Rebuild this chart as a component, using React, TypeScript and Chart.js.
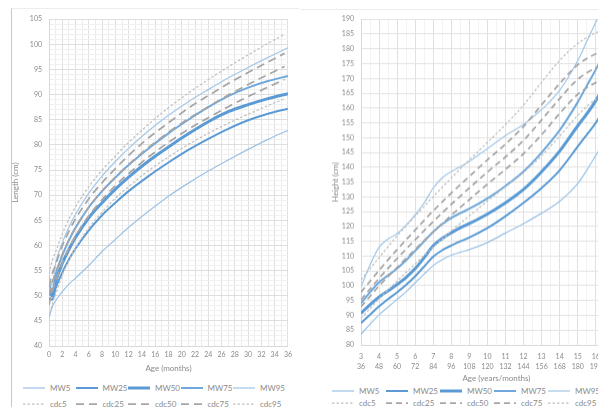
import React, { useEffect, useRef } from "react";
import { Chart, registerables } from "chart.js";
Chart.register(...registerables);

// ---------- Infant chart (length, 0-36 months) ----------
const infantMonths = [0, 0.5, 1, 2, 3, 4, 6, 8, 10, 12, 15, 18, 21, 24, 27, 30, 33, 36];
const mw5Infant = [45.6, 47.8, 49.0, 50.8, 52.3, 53.5, 56.0, 58.8, 61.2, 63.6, 66.8, 69.8, 72.4, 74.8, 77.0, 79.1, 81.1, 82.9];
const mw25Infant = [49.5, 49.2, 51.5, 54.6, 57.2, 59.4, 63.0, 66.0, 68.5, 70.8, 73.8, 76.5, 79.0, 81.2, 83.2, 84.9, 86.2, 87.2];
const mw50Infant = [51.0, 50.0, 52.8, 56.4, 59.2, 61.6, 65.5, 68.5, 71.2, 73.6, 76.8, 79.6, 82.2, 84.6, 86.6, 88.0, 89.2, 90.2];
const mw75Infant = [52.5, 50.8, 54.2, 58.0, 61.0, 63.5, 67.6, 70.8, 73.5, 76.0, 79.3, 82.3, 85.0, 87.5, 89.7, 91.4, 92.7, 93.7];
const mw95Infant = [54.0, 52.0, 56.5, 60.5, 63.6, 66.2, 70.4, 73.8, 76.7, 79.3, 82.8, 85.9, 88.6, 91.0, 93.3, 95.4, 97.4, 99.3];

const cdcInfantMonths = [0, 0.5, 1, 2, 3, 4, 6, 8, 10, 12, 15, 18, 21, 24, 27, 30, 33, 35.5];
const cdc5Infant = [45.6, 48.4, 50.3, 54.1, 57.0, 59.5, 63.5, 66.6, 69.4, 71.7, 74.9, 77.6, 80.1, 82.3, 84.3, 86.1, 87.8, 89.2];
const cdc25Infant = [48.2, 51.0, 52.8, 56.5, 59.4, 61.9, 65.9, 69.1, 71.9, 74.3, 77.6, 80.5, 83.1, 85.4, 87.6, 89.6, 91.5, 93.0];
const cdc50Infant = [50.0, 52.7, 54.5, 58.2, 61.1, 63.6, 67.6, 70.8, 73.6, 76.1, 79.5, 82.5, 85.2, 87.6, 89.9, 92.0, 94.0, 95.6];
const cdc75Infant = [51.8, 54.4, 56.2, 59.9, 62.8, 65.3, 69.3, 72.5, 75.3, 77.9, 81.4, 84.4, 87.3, 89.8, 92.2, 94.4, 96.5, 98.2];
const cdc95Infant = [54.4, 57.0, 58.7, 62.3, 65.2, 67.7, 71.7, 75.0, 77.8, 80.5, 84.1, 87.4, 90.3, 93.0, 95.5, 97.9, 100.2, 102.0];

// ---------- Child chart (height, 3-18 years) ----------
const childAges = [3, 3.5, 4, 4.5, 5, 5.5, 6, 6.5, 7, 7.5, 8, 8.5, 9, 10, 11, 12, 13, 14, 15, 15.5, 16, 16.5];
const mw5Child = [83.6, 87.0, 90.2, 92.8, 95.4, 98.0, 101.0, 104.0, 106.8, 108.8, 110.3, 111.3, 112.2, 114.6, 117.8, 121.0, 124.5, 128.5, 134.5, 139.0, 144.0, 149.0];
const mw25Child = [87.4, 90.2, 93.0, 95.5, 97.8, 100.3, 103.2, 106.5, 109.8, 112.0, 113.6, 115.0, 116.3, 119.5, 123.5, 128.0, 133.0, 139.0, 147.0, 151.0, 155.0, 160.0];
const mw50Child = [90.7, 93.6, 96.2, 98.3, 100.4, 102.8, 105.8, 109.5, 113.5, 116.0, 117.9, 119.6, 121.0, 124.2, 128.0, 132.5, 138.5, 145.5, 154.0, 158.0, 162.5, 168.0];
const mw75Child = [94.1, 97.8, 101.2, 103.5, 105.8, 108.6, 111.8, 115.0, 118.2, 120.8, 122.9, 124.5, 126.0, 129.5, 133.7, 138.6, 145.0, 152.5, 162.0, 167.5, 173.0, 179.0];
const mw95Child = [99.6, 107.0, 113.0, 115.8, 117.6, 120.5, 124.0, 128.0, 133.0, 136.5, 138.5, 140.2, 142.0, 146.3, 150.7, 154.5, 159.5, 166.0, 176.0, 182.5, 189.0, 195.0];

const cdcChildAges = [3, 4, 5, 6, 7, 8, 9, 10, 11, 12, 13, 14, 15, 16, 17, 18];
const cdc5Child = [89.0, 95.5, 101.6, 107.4, 113.0, 118.5, 123.6, 128.6, 133.4, 138.2, 143.9, 150.5, 157.5, 163.0, 165.7, 166.7];
const cdc25Child = [92.9, 99.9, 106.2, 112.3, 118.2, 123.8, 129.1, 134.3, 139.3, 144.6, 151.0, 158.2, 164.6, 168.6, 170.7, 171.6];
const cdc50Child = [95.3, 102.5, 109.2, 115.5, 121.7, 127.5, 133.0, 138.4, 143.5, 149.1, 156.0, 163.2, 169.7, 173.5, 175.4, 176.1];
const cdc75Child = [97.8, 105.2, 112.2, 118.8, 125.3, 131.3, 136.9, 142.5, 147.8, 153.8, 161.1, 168.3, 174.6, 178.3, 180.1, 180.7];
const cdc95Child = [102.0, 109.5, 116.8, 123.5, 130.1, 136.4, 142.5, 148.4, 154.4, 161.0, 168.7, 176.1, 181.8, 185.4, 187.3, 188.2];

const mwLabels = ["MW5", "MW25", "MW50", "MW75", "MW95"];
const cdcLabels = ["cdc5", "cdc25", "cdc50", "cdc75", "cdc95"];

// ---------- styles ----------
const FONT = "Lato, 'Open Sans', sans-serif";
const TEXT = "#8a8a8a";
const MW_COLORS = ["#9dc3e6", "#5b9bd5", "#5b9bd5", "#6fa8dc", "#a3c8e8"];
const MW_WIDTHS = [1.25, 2, 3, 2, 1.25];
const CDC_COLORS = ["#c0c0c0", "#a6a6a6", "#a6a6a6", "#a6a6a6", "#c0c0c0"];
const CDC_WIDTHS = [1.25, 1.75, 1.75, 1.75, 1.25];
const SHORT_DASH = [2.5, 2];

function buildDatasets(mwX: number[], mw: number[][], cdcX: number[], cdc: number[][], longDash: number[]) {
  const sets: any[] = [];
  mw.forEach((ys, i) => {
    sets.push({
      label: mwLabels[i],
      data: mwX.map((x, j) => ({ x, y: ys[j] })),
      borderColor: MW_COLORS[i],
      borderWidth: MW_WIDTHS[i],
      pointRadius: 0,
      fill: false,
      cubicInterpolationMode: "monotone",
      order: 20 - i,
    });
  });
  cdc.forEach((ys, i) => {
    sets.push({
      label: cdcLabels[i],
      data: cdcX.map((x, j) => ({ x, y: ys[j] })),
      borderColor: CDC_COLORS[i],
      borderWidth: CDC_WIDTHS[i],
      borderDash: i === 0 || i === 4 ? SHORT_DASH : longDash,
      pointRadius: 0,
      fill: false,
      cubicInterpolationMode: "monotone",
      order: 10 - i,
    });
  });
  return sets;
}

function infantConfig(): any {
  return {
    type: "line",
    data: {
      datasets: buildDatasets(
        infantMonths,
        [mw5Infant, mw25Infant, mw50Infant, mw75Infant, mw95Infant],
        cdcInfantMonths,
        [cdc5Infant, cdc25Infant, cdc50Infant, cdc75Infant, cdc95Infant],
        [8, 5]
      ),
    },
    options: {
      animation: false,
      responsive: false,
      maintainAspectRatio: false,
      layout: { padding: { left: 0, right: 5, top: 6, bottom: 0 } },
      plugins: { legend: { display: false }, tooltip: { enabled: false } },
      scales: {
        x: {
          type: "linear",
          min: 0,
          max: 36,
          afterFit: (s: any) => { s.height = 27; },
          ticks: {
            stepSize: 1,
            autoSkip: false,
            maxRotation: 0,
            padding: 5,
            color: TEXT,
            font: { family: FONT, size: 7 },
            callback: (v: number) => (Math.round(v) % 2 === 0 ? String(Math.round(v)) : ""),
          },
          grid: {
            drawTicks: false,
            color: (c: any) => (c.tick && Math.round(c.tick.value) % 2 === 0 ? "#e0e0e0" : "#ececec"),
          },
          border: { color: "#d9d9d9" },
          title: { display: true, text: "Age (months)", color: TEXT, font: { family: FONT, size: 8, lineHeight: 1 }, padding: { top: 0, bottom: 0.5 } },
        },
        y: {
          min: 40,
          max: 105,
          afterFit: (s: any) => { s.width = 38; },
          ticks: {
            stepSize: 1,
            autoSkip: false,
            padding: 7,
            color: TEXT,
            font: { family: FONT, size: 7 },
            callback: (v: number) => (Math.round(v) % 5 === 0 ? String(Math.round(v)) : ""),
          },
          grid: {
            drawTicks: false,
            color: (c: any) => (c.tick && Math.round(c.tick.value) % 5 === 0 ? "#dedede" : "#f0f0f0"),
          },
          border: { color: "#d9d9d9" },
          title: { display: true, text: "Length (cm)", color: TEXT, font: { family: FONT, size: 8, lineHeight: 1 }, padding: { top: 0, bottom: 0 } },
        },
      },
    },
  };
}

function childConfig(): any {
  return {
    type: "line",
    data: {
      datasets: buildDatasets(
        childAges,
        [mw5Child, mw25Child, mw50Child, mw75Child, mw95Child],
        cdcChildAges,
        [cdc5Child, cdc25Child, cdc50Child, cdc75Child, cdc95Child],
        [6, 4]
      ),
    },
    options: {
      animation: false,
      responsive: false,
      maintainAspectRatio: false,
      layout: { padding: { left: 31, right: 9.5, top: 5, bottom: 0 } },
      plugins: { legend: { display: false }, tooltip: { enabled: false } },
      scales: {
        x: {
          type: "linear",
          min: 3,
          max: 18,
          afterFit: (s: any) => { s.height = 37; },
          ticks: {
            stepSize: 0.5,
            autoSkip: false,
            maxRotation: 0,
            padding: 7,
            color: TEXT,
            font: { family: FONT, size: 7, lineHeight: 1.4 },
            callback: (v: number) => {
              if (Math.abs(v - Math.round(v)) > 1e-6) return "";
              const y = Math.round(v);
              return [String(y), String(y * 12)];
            },
          },
          grid: {
            drawTicks: false,
            color: (c: any) => (c.tick && Math.abs(c.tick.value - Math.round(c.tick.value)) < 1e-6 ? "#e0e0e0" : "#f3f3f3"),
          },
          border: { color: "#d9d9d9" },
          title: { display: true, text: "Age (years/months)", color: TEXT, font: { family: FONT, size: 8, lineHeight: 1 }, padding: { top: 0, bottom: 0 } },
        },
        y: {
          min: 80,
          max: 190,
          afterFit: (s: any) => { s.width = 30; },
          ticks: {
            stepSize: 5,
            autoSkip: false,
            padding: 7,
            color: TEXT,
            font: { family: FONT, size: 7 },
          },
          grid: { drawTicks: false, color: "#e3e3e3" },
          border: { color: "#d9d9d9" },
          title: { display: true, text: "Height (cm)", color: TEXT, font: { family: FONT, size: 8, lineHeight: 1 }, padding: { top: 0, bottom: 0 } },
        },
      },
    },
  };
}

function ChartCanvas({ config, left, top, width, height }: { config: () => any; left: number; top: number; width: number; height: number }) {
  const ref = useRef<HTMLCanvasElement>(null);
  useEffect(() => {
    const chart = new Chart(ref.current as HTMLCanvasElement, config());
    return () => chart.destroy();
  }, []);
  return (
    <canvas
      ref={ref}
      width={width}
      height={height}
      style={{ position: "absolute", left, top, width, height }}
    />
  );
}

function LegendSample({ color, width, dash }: { color: string; width: number; dash?: number[] }) {
  return (
    <svg width={22} height={8} style={{ display: "block", flex: "none" }}>
      <line x1={0} y1={4} x2={22} y2={4} stroke={color} strokeWidth={width} strokeDasharray={dash ? dash.join(" ") : undefined} />
    </svg>
  );
}

function Legend({ left, top, pitch, rowGap, longDash }: { left: number; top: number; pitch: number; rowGap: number; longDash: number[] }) {
  const rows = [
    mwLabels.map((l, i) => ({ label: l, color: MW_COLORS[i], width: MW_WIDTHS[i], dash: undefined as number[] | undefined })),
    cdcLabels.map((l, i) => ({ label: l, color: CDC_COLORS[i], width: CDC_WIDTHS[i], dash: i === 0 || i === 4 ? SHORT_DASH : longDash })),
  ];
  return (
    <>
      {rows.map((row, r) =>
        row.map((it, i) => (
          <div
            key={r + "-" + i}
            style={{
              position: "absolute",
              left: left + i * pitch,
              top: top + r * rowGap - 5,
              height: 10,
              display: "flex",
              alignItems: "center",
              whiteSpace: "nowrap",
              fontFamily: FONT,
              fontSize: 8,
              color: TEXT,
            }}
          >
            <LegendSample color={it.color} width={it.width} dash={it.dash} />
            <span style={{ marginLeft: 5, lineHeight: "10px" }}>{it.label}</span>
          </div>
        ))
      )}
    </>
  );
}

export default function App() {
  return (
    <div style={{ position: "absolute", left: 0, top: 0, width: 598, height: 407, overflow: "hidden", background: "#ffffff" }}>
      <div style={{ position: "absolute", left: 11, top: 8, width: 287, height: 420, borderLeft: "1px solid #c8c8c8", borderTop: "1px solid #ececec" }} />
      <div style={{ position: "absolute", left: 300, top: 9, width: 320, height: 0, borderTop: "1px solid #ececec" }} />
      <ChartCanvas config={infantConfig} left={11} top={8} width={286} height={365} />
      <ChartCanvas config={childConfig} left={300} top={8} width={345} height={373.5} />
      <Legend left={23} top={388} pitch={52.5} rowGap={16} longDash={[8, 5]} />
      <Legend left={332} top={391} pitch={54} rowGap={11.5} longDash={[6, 4]} />
    </div>
  );
}
